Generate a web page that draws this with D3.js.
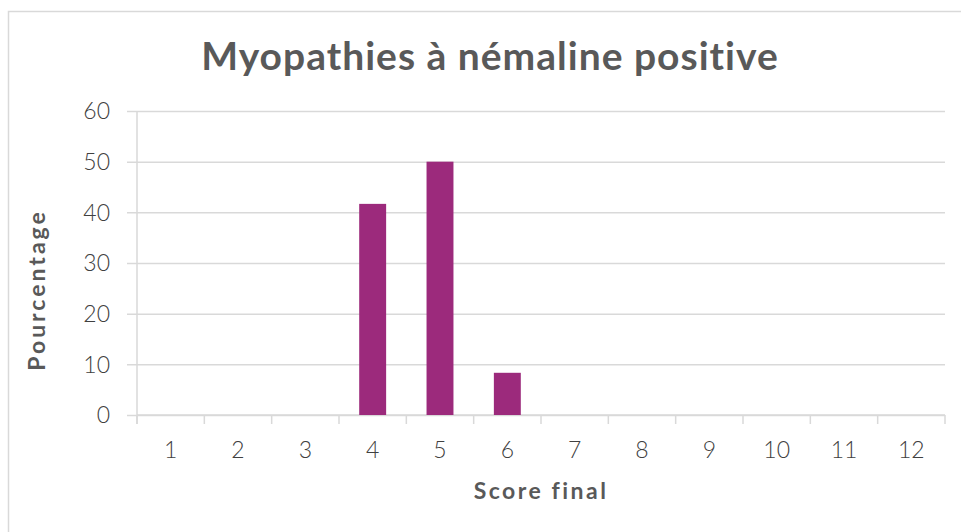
<!DOCTYPE html>
<html>
<head>
<meta charset="utf-8">
<script src="https://cdn.jsdelivr.net/npm/d3@7"></script>
<style>
body{margin:0;background:#fff;}
svg text{font-family:"Lato","DejaVu Sans",sans-serif;}
</style>
</head>
<body>
<div id="chart"></div>
<script>
// scores 1..12 and their share in percent
var scores = ["1","2","3","4","5","6","7","8","9","10","11","12"];
var percents = [0,0,0,41.67,50,8.33,0,0,0,0,0,0];
var yTicks = [0,10,20,30,40,50,60];
var title = "Myopathies à némaline positive";
var xLabel = "Score final";
var yLabel = "Pourcentage";

var width = 961, height = 532;
var plotLeft = 137, plotRight = 945, plotTop = 111, plotBottom = 415;
var grid = "#d9d9d9", textCol = "#404040", titleCol = "#595959";

var data = scores.map(function(s,i){ return {score:s, value:percents[i]}; });

var svg = d3.select("#chart")
    .append("svg")
    .attr("width",width)
    .attr("height",height);

// chart border
svg.append("rect")
    .attr("x",8.5).attr("y",11.5)
    .attr("width",970).attr("height",540)
    .attr("fill","#fff")
    .attr("stroke","#d9d9d9")
    .attr("stroke-width",1.5);

var xScale = d3.scaleBand()
    .domain(scores)
    .range([plotLeft,plotRight])
    .paddingInner(0.6)
    .paddingOuter(0.3);

var xTickScale = d3.scaleLinear()
    .domain([0,scores.length])
    .range([plotLeft,plotRight]);

var yScale = d3.scaleLinear()
    .domain([0,60])
    .range([plotBottom,plotTop]);

// horizontal grid lines (extend left as tick marks)
svg.append("g")
    .attr("transform","translate("+plotLeft+",0)")
    .call(d3.axisLeft(yScale).tickValues(yTicks).tickSize(-(plotRight-plotLeft)).tickFormat(""))
    .call(function(g){ g.select(".domain").remove(); })
    .selectAll("line")
    .attr("stroke",grid)
    .attr("stroke-width",1.5)
    .attr("x1",-10);

// y axis line
svg.append("line")
    .attr("x1",plotLeft).attr("x2",plotLeft)
    .attr("y1",plotTop).attr("y2",plotBottom+9)
    .attr("stroke",grid).attr("stroke-width",1.5);

// y tick labels
svg.append("g").selectAll("text")
    .data(yTicks)
    .enter()
    .append("text")
    .attr("x",110)
    .attr("y",function(d){ return yScale(d); })
    .attr("dy","0.36em")
    .attr("text-anchor","end")
    .attr("font-size",23)
    .attr("font-weight",300)
    .attr("fill",textCol)
    .text(function(d){ return d; });

// x axis line and category separators
svg.append("line")
    .attr("x1",plotLeft).attr("x2",plotRight)
    .attr("y1",plotBottom).attr("y2",plotBottom)
    .attr("stroke",grid).attr("stroke-width",1.5);

svg.append("g").selectAll("line")
    .data(d3.range(scores.length+1))
    .enter()
    .append("line")
    .attr("x1",function(d){ return xTickScale(d); })
    .attr("x2",function(d){ return xTickScale(d); })
    .attr("y1",plotBottom)
    .attr("y2",plotBottom+9)
    .attr("stroke",grid).attr("stroke-width",1.5);

svg.append("g").selectAll("text")
    .data(scores)
    .enter()
    .append("text")
    .attr("x",function(d){ return xScale(d)+xScale.bandwidth()/2; })
    .attr("y",450)
    .attr("dy","0.36em")
    .attr("text-anchor","middle")
    .attr("font-size",23)
    .attr("font-weight",300)
    .attr("fill",textCol)
    .text(function(d){ return d; });

// bars
svg.append("g").selectAll("rect")
    .data(data)
    .enter()
    .append("rect")
    .attr("x",function(d){ return xScale(d.score); })
    .attr("y",function(d){ return yScale(d.value); })
    .attr("width",xScale.bandwidth())
    .attr("height",function(d){ return plotBottom-yScale(d.value); })
    .attr("fill","#9c2a7c");

// titles
svg.append("text")
    .attr("x",490)
    .attr("y",56)
    .attr("dy","0.36em")
    .attr("text-anchor","middle")
    .attr("font-size",39)
    .attr("font-weight","bold")
    .attr("letter-spacing",1)
    .attr("fill",titleCol)
    .text(title);

svg.append("text")
    .attr("x",(plotLeft+plotRight)/2)
    .attr("y",491)
    .attr("dy","0.36em")
    .attr("text-anchor","middle")
    .attr("font-size",23)
    .attr("font-weight","bold")
    .attr("letter-spacing",2.5)
    .attr("fill",titleCol)
    .text(xLabel);

svg.append("text")
    .attr("transform","translate(37,290) rotate(-90)")
    .attr("dy","0.36em")
    .attr("text-anchor","middle")
    .attr("font-size",23)
    .attr("font-weight","bold")
    .attr("letter-spacing",3)
    .attr("fill",titleCol)
    .text(yLabel);
</script>
</body>
</html>
